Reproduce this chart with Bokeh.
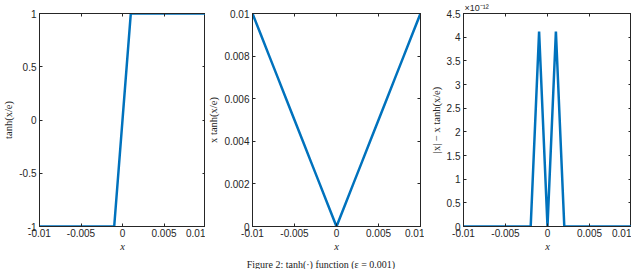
from bokeh.plotting import figure
from bokeh.models import Range1d, FixedTicker, LinearAxis, Div, CustomLabelingPolicy
from bokeh.layouts import row, column
from bokeh.embed import file_html
from bokeh.resources import INLINE

# data
x = [-0.010, -0.009, -0.008, -0.007, -0.006, -0.005, -0.004, -0.003, -0.002, -0.001, 0.0,
     0.001, 0.002, 0.003, 0.004, 0.005, 0.006, 0.007, 0.008, 0.009, 0.010]
y_tanh = [-1, -1, -1, -1, -1, -1, -1, -1, -1, -1, 0, 1, 1, 1, 1, 1, 1, 1, 1, 1, 1]
y_xtanh = [0.010, 0.009, 0.008, 0.007, 0.006, 0.005, 0.004, 0.003, 0.002, 0.001, 0.0,
           0.001, 0.002, 0.003, 0.004, 0.005, 0.006, 0.007, 0.008, 0.009, 0.010]
y_diff_e12 = [0, 0, 0, 0, 0, 0, 0, 0, 0, 4.12, 0, 4.12, 0, 0, 0, 0, 0, 0, 0, 0, 0]  # units of 1e-12

x_ticks = [-0.01, -0.005, 0, 0.005, 0.01]
x_tick_labels = ["-0.01", "-0.005", "0", "0.005", "0.01"]
y1_ticks = [-1, -0.5, 0, 0.5, 1]
y1_labels = ["-1", "-0.5", "0", "0.5", "1"]
y2_ticks = [0, 0.002, 0.004, 0.006, 0.008, 0.01]
y2_labels = ["0", "0.002", "0.004", "0.006", "0.008", "0.01"]
y3_ticks = [0, 0.5, 1, 1.5, 2, 2.5, 3, 3.5, 4, 4.5]
y3_labels = ["0", "0.5", "1", "1.5", "2", "2.5", "3", "3.5", "4", "4.5"]

AX = "#262626"
LINE = "#0072BD"
TICKFONT = "Liberation Sans"
LABFONT = "Liberation Serif"

NO_LABELS = CustomLabelingPolicy(code="""
const n = indices.size;
for (let i = 0; i < n; i++) indices.unset(i);
return indices;
""")


def style_axis(ax, ticks, labels, show_labels=True):
    ax.ticker = FixedTicker(ticks=ticks)
    ax.major_label_overrides = {t: l for t, l in zip(ticks, labels)}
    ax.major_tick_in = 3
    ax.major_tick_out = 0
    ax.minor_tick_in = 0
    ax.minor_tick_out = 0
    ax.axis_line_color = AX
    ax.major_tick_line_color = AX
    ax.major_label_text_color = AX
    ax.major_label_text_font = TICKFONT
    ax.major_label_text_font_size = "10px"
    ax.major_label_standoff = 3
    ax.axis_label_text_font = LABFONT
    ax.axis_label_text_font_size = "10.5px"
    ax.axis_label_text_font_style = "normal"
    ax.axis_label_text_color = AX
    ax.axis_label_standoff = 2
    if not show_labels:
        ax.major_label_policy = NO_LABELS
        ax.major_label_text_font_size = "0px"
        ax.major_label_standoff = 0
        ax.axis_label_standoff = 0


def make(ys, yr, yt, yl, ylabel, fw, bl, br, title=None):
    p = figure(frame_width=fw, frame_height=213, output_backend="svg", toolbar_location=None,
               x_range=Range1d(-0.01, 0.01), y_range=Range1d(*yr), title=title,
               min_border_left=bl, min_border_right=br, min_border_top=13, min_border_bottom=26)
    p.grid.visible = False
    p.outline_line_color = AX
    style_axis(p.xaxis[0], x_ticks, x_tick_labels)
    style_axis(p.yaxis[0], yt, yl)
    p.xaxis[0].axis_label = "x"
    p.xaxis[0].axis_label_text_font_style = "italic"
    p.xaxis[0].axis_label_standoff = 1
    p.xaxis[0].major_label_standoff = 2
    p.yaxis[0].axis_label = ylabel
    top = LinearAxis()
    style_axis(top, x_ticks, x_tick_labels, show_labels=False)
    p.add_layout(top, "above")
    right = LinearAxis()
    style_axis(right, yt, yl, show_labels=False)
    p.add_layout(right, "right")
    p.line(x, ys, line_color=LINE, line_width=2.5)
    return p


p1 = make(y_tanh, (-1, 1), y1_ticks, y1_labels, "tanh(x/e)", 166, 36, 0)
p2 = make(y_xtanh, (0, 0.01), y2_ticks, y2_labels, "x tanh(x/e)", 168, 46, 4)
p3 = make(y_diff_e12, (0, 4.5), y3_ticks, y3_labels, "|x| \u2212 x tanh(x/e)", 168, 39, 0,
          title="\u00d710\u207b\u00b9\u00b2")
p3.title.align = "left"
p3.title.text_font = TICKFONT
p3.title.text_font_size = "9px"
p3.title.text_font_style = "normal"
p3.title.text_color = AX
p3.title.standoff = 1
p3.title.offset = 1

caption = Div(text="Figure 2: tanh(\u00b7) function (\u03b5 = 0.001)", width=632, height=11,
              styles={"text-align": "center", "font-family": "Liberation Serif",
                      "font-size": "10px", "color": "#222", "line-height": "11px"})

layout = column(row(p1, p2, p3), caption)
open("out.html", "w").write(file_html(layout, INLINE))
